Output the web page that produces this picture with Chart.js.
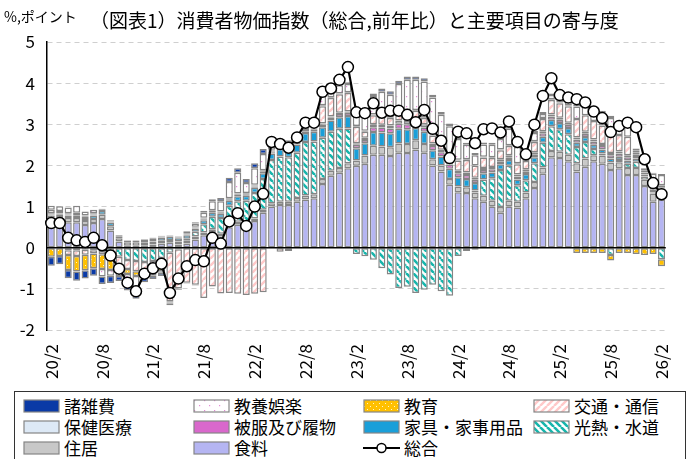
<!DOCTYPE html>
<html><head><meta charset="utf-8">
<script src="https://cdn.jsdelivr.net/npm/chart.js@4.4.1/dist/chart.umd.min.js"></script>
<style>
html,body{margin:0;padding:0;background:#fff;}
#wrap{position:relative;width:688px;height:459px;overflow:hidden;font-family:"Noto Sans CJK JP","Noto Sans",sans-serif;color:#000;}
#cv{position:absolute;left:0;top:0;}
#unit{position:absolute;left:4px;top:6px;font-size:14px;line-height:20px;white-space:nowrap;}
#title{position:absolute;left:90px;top:9px;font-size:19px;line-height:22px;white-space:nowrap;}
#legend{position:absolute;left:14px;top:391px;width:672px;height:72px;border:1.5px solid #333;box-sizing:border-box;}
.item{position:absolute;display:flex;align-items:center;font-size:17px;line-height:20px;white-space:nowrap;}
.item canvas{margin-right:4px;display:block;}
</style></head>
<body><div id="wrap">
<canvas id="cv" width="688" height="390"></canvas>
<div id="unit">%,ポイント</div>
<div id="title">（図表1）消費者物価指数（総合,前年比）と主要項目の寄与度</div>
<div id="legend"></div>
</div>
<script>
const categories = ['20/2','20/3','20/4','20/5','20/6','20/7','20/8','20/9','20/10','20/11','20/12',
'21/1','21/2','21/3','21/4','21/5','21/6','21/7','21/8','21/9','21/10','21/11','21/12',
'22/1','22/2','22/3','22/4','22/5','22/6','22/7','22/8','22/9','22/10','22/11','22/12',
'23/1','23/2','23/3','23/4','23/5','23/6','23/7','23/8','23/9','23/10','23/11','23/12',
'24/1','24/2','24/3','24/4','24/5','24/6','24/7','24/8','24/9','24/10','24/11','24/12',
'25/1','25/2','25/3','25/4','25/5','25/6','25/7','25/8','25/9','25/10','25/11','25/12',
'26/1','26/2'];
const tickLabels = ['20/2','20/8','21/2','21/8','22/2','22/8','23/2','23/8','24/2','24/8','25/2','25/8','26/2'];
const yTicks = [-2,-1,0,1,2,3,4,5];

const food = [0.60,0.60,0.62,0.62,0.55,0.60,0.70,0.42,0.15,0.05,0.05,
0.06,0.08,0.10,0.12,0.08,0.10,0.20,0.30,0.38,0.27,0.50,0.56,
0.53,0.65,0.85,1.00,1.04,1.04,1.12,1.17,1.20,1.55,1.75,1.82,1.93,
1.99,2.04,2.26,2.26,2.23,2.31,2.30,2.39,2.31,2.00,1.85,1.53,
1.35,1.33,1.20,1.12,1.00,0.85,1.00,0.98,1.20,1.45,1.80,2.20,
2.18,2.10,1.85,1.97,2.10,2.04,1.89,1.93,1.77,1.77,1.50,1.12,1.17];
const housing = [0.10,0.10,0.10,0.10,0.10,0.10,0.10,0.10,0.08,0.08,0.08,
0.07,0.07,0.07,0.07,0.07,0.07,0.07,0.07,0.07,0.07,0.07,0.07,
0.06,0.06,0.07,0.08,0.08,0.08,0.09,0.10,0.10,0.12,0.12,0.12,0.12,
0.13,0.20,0.22,0.20,0.21,0.22,0.22,0.22,0.21,0.15,0.15,0.14,
0.14,0.14,0.14,0.14,0.14,0.14,0.14,0.14,0.14,0.15,0.15,0.15,
0.15,0.16,0.20,0.20,0.15,0.20,0.18,0.15,0.17,0.17,0.15,0.20,0.18];
const energy = [0.03,0.02,-0.06,-0.06,-0.05,-0.06,-0.08,-0.12,-0.22,-0.30,-0.32,
-0.35,-0.32,-0.25,-0.12,-0.04,0.05,0.12,0.20,0.30,0.38,0.45,0.50,
0.55,0.62,0.75,1.05,1.10,1.08,1.10,1.30,1.28,1.00,0.95,0.95,0.85,
-0.15,-0.21,-0.29,-0.50,-0.65,-0.98,-0.95,-1.10,-1.02,-0.90,-1.06,-1.17,
-0.20,-0.08,0.05,0.40,0.55,0.90,0.85,0.40,0.30,0.45,0.60,0.60,
0.55,0.50,0.40,0.40,0.15,0.05,-0.18,0.05,0.10,0.15,0.08,0.02,-0.28];
const furniture = [0.05,0.05,0.06,0.07,0.07,0.08,0.09,0.09,0.05,0.04,0.04,
0.06,0.07,0.08,0.08,0.08,0.08,0.08,0.10,0.10,0.10,0.12,0.12,
0.12,0.13,0.14,0.16,0.18,0.18,0.20,0.22,0.24,0.26,0.27,0.28,0.30,
0.30,0.30,0.33,0.34,0.34,0.36,0.36,0.30,0.30,0.22,0.22,0.25,
0.22,0.20,0.18,0.15,0.14,0.14,0.14,0.14,0.15,0.15,0.15,0.16,
0.15,0.15,0.10,0.12,0.10,0.10,0.10,0.08,0.08,0.08,0.05,0.04,0.05];
const clothing = [0.03,0.03,0.03,0.03,0.03,0.03,0.03,0.03,0.02,0.01,0.01,
0.01,0.02,0.02,0.02,0.02,0.02,0.02,0.02,0.02,0.02,0.02,0.03,
0.03,0.03,0.03,0.03,0.03,0.04,0.04,0.04,0.05,0.06,0.07,0.08,0.08,
0.08,0.08,0.12,0.12,0.12,0.12,0.12,0.12,0.10,0.10,0.10,0.10,
0.10,0.10,0.08,0.08,0.08,0.07,0.07,0.07,0.07,0.07,0.08,0.08,
0.08,0.08,0.08,0.08,0.08,0.08,0.08,0.08,0.08,0.06,0.05,0.04,0.04];
const health = [0.03,0.03,0.03,0.03,0.03,0.03,0.03,0.03,0.01,0.01,0.01,
0.01,0.01,0.02,0.01,0.02,0.02,0.02,0.02,0.02,0.02,0.02,0.02,
0.02,0.02,0.02,0.02,0.02,0.02,0.02,0.03,0.03,0.03,0.03,0.03,0.03,
0.04,0.05,0.07,0.07,0.07,0.08,0.08,0.08,0.08,0.06,0.06,0.06,
0.06,0.06,0.05,0.05,0.05,0.05,0.05,0.05,0.05,0.05,0.05,0.05,
0.05,0.05,0.05,0.05,0.05,0.05,0.05,0.05,0.05,0.04,0.04,0.03,0.03];
const transport = [0.08,0.06,-0.12,-0.14,-0.12,-0.08,-0.08,-0.06,-0.20,-0.22,-0.25,
-0.20,-0.20,-0.20,-1.18,-0.95,-0.85,-0.90,-1.22,-0.94,-1.11,-1.10,-1.12,
-1.15,-1.12,-1.08,0.02,-0.10,-0.08,0.02,0.05,0.05,0.42,0.45,0.45,0.45,
0.40,0.15,0.22,0.20,0.18,0.22,0.25,0.22,0.15,0.20,0.15,0.15,
0.25,0.30,0.30,0.25,0.22,0.22,0.22,0.25,0.20,0.25,0.30,0.35,
0.35,0.40,0.45,0.40,0.45,0.45,0.50,0.40,0.45,0.05,0.00,0.05,0.05];
const education = [-0.22,-0.20,-0.36,-0.38,-0.38,-0.36,-0.36,-0.36,-0.12,-0.12,-0.12,
-0.12,-0.12,-0.12,-0.03,-0.02,-0.02,-0.02,0.02,0.02,0.02,0.02,0.02,
0.02,0.02,0.02,0.02,0.02,0.02,0.02,0.02,0.02,0.02,0.02,0.02,0.02,
0.02,0.02,0.02,0.02,0.02,0.02,0.02,0.02,0.02,0.02,0.02,0.02,
0.02,0.02,-0.05,0.02,0.02,0.02,0.02,0.02,0.02,0.02,0.02,0.02,
0.02,0.02,-0.13,-0.13,-0.13,-0.13,-0.13,-0.13,-0.13,-0.15,-0.18,-0.15,-0.17];
const recreation = [0.10,0.12,0.14,0.17,0.10,0.08,-0.18,-0.14,-0.15,-0.30,-0.35,
-0.05,-0.04,-0.04,-0.02,0.01,0.04,0.08,0.12,0.22,0.25,0.40,0.50,
0.24,0.40,0.40,0.10,0.08,0.08,0.06,0.08,0.07,0.30,0.20,0.20,0.20,
0.40,0.50,0.45,0.58,0.55,0.65,0.73,0.73,0.87,0.90,0.68,0.70,
0.50,0.35,0.25,0.30,0.30,0.25,0.40,0.40,0.15,0.20,0.10,0.10,
0.15,0.15,0.30,0.30,0.25,0.30,0.35,0.25,0.30,0.05,0.05,0.30,0.25];
const misc = [-0.22,-0.20,-0.20,-0.22,-0.20,-0.18,-0.18,-0.18,-0.12,-0.10,-0.20,
-0.12,-0.08,-0.08,-0.05,-0.02,0.02,0.03,0.05,0.05,0.08,0.10,0.11,
0.10,0.12,0.12,0.10,0.08,0.07,0.05,0.05,0.05,0.05,0.04,0.04,0.04,
0.05,0.05,0.06,0.08,0.08,0.08,0.08,0.08,0.08,0.07,0.07,0.07,
0.06,0.05,0.05,0.05,0.05,0.05,0.05,0.05,0.04,0.05,0.05,0.04,
0.05,0.05,0.05,0.08,0.08,0.06,0.06,0.05,0.05,0.04,0.02,0.02,0.02];
const total = [0.60,0.60,0.24,0.18,0.14,0.24,0.06,-0.19,-0.51,-0.85,-1.06,
-0.63,-0.50,-0.39,-1.10,-0.75,-0.45,-0.30,-0.33,0.24,0.10,0.64,0.84,
0.53,1.00,1.31,2.57,2.52,2.43,2.68,3.04,3.04,3.79,3.87,4.08,4.39,
3.29,3.27,3.51,3.28,3.33,3.33,3.23,3.05,3.35,2.89,2.60,2.18,
2.82,2.78,2.54,2.88,2.90,2.80,3.07,2.57,2.27,2.99,3.69,4.12,
3.71,3.65,3.61,3.53,3.31,3.15,2.81,2.96,3.04,2.93,2.15,1.57,1.30];

// ---- fills ----
function tile(size, draw){const c=document.createElement('canvas');c.width=c.height=size;const x=c.getContext('2d');draw(x,size);return c;}
function stripes(bg, fg, size, lw, back){
  return tile(size,(x,s)=>{x.fillStyle=bg;x.fillRect(0,0,s,s);x.strokeStyle=fg;x.lineWidth=lw;x.beginPath();
    for(let k=-1;k<=1;k++){ if(back){x.moveTo(k*s,0);x.lineTo(k*s+s,s);} else {x.moveTo(k*s,s);x.lineTo(k*s+s,0);} }
    x.stroke();});
}
function dots(bg, fg, size, r){
  return tile(size,(x,s)=>{x.fillStyle=bg;x.fillRect(0,0,s,s);x.fillStyle=fg;
    x.fillRect(1,1,r,r);x.fillRect(1+s/2,1+s/2,r,r);});
}
const pctx = document.createElement('canvas').getContext('2d');
const fills = {
  misc:'#0a3aa6',
  rec: pctx.createPattern(dots('#ffffff','#e58ad8',10,1.2),'repeat'),
  edu: pctx.createPattern(dots('#ffc000','#fff6cc',6,1),'repeat'),
  trans: pctx.createPattern(stripes('#ffffff','#ffc9c9',7,2.4,false),'repeat'),
  health:'#dde9f6',
  cloth:'#d968cc',
  furn:'#1a9fd9',
  energy: pctx.createPattern(stripes('#ffffff','#17b5ac',7,2.6,true),'repeat'),
  house:'#c8c8c8',
  food:'#b5b5f2'
};
const edge = '#858585';

const series = [
  {label:'食料', data:food, fill:fills.food},
  {label:'住居', data:housing, fill:fills.house},
  {label:'光熱・水道', data:energy, fill:fills.energy},
  {label:'家具・家事用品', data:furniture, fill:fills.furn},
  {label:'被服及び履物', data:clothing, fill:fills.cloth},
  {label:'保健医療', data:health, fill:fills.health},
  {label:'交通・通信', data:transport, fill:fills.trans},
  {label:'教育', data:education, fill:fills.edu},
  {label:'教養娯楽', data:recreation, fill:fills.rec},
  {label:'諸雑費', data:misc, fill:fills.misc}
];

const datasets = series.map(s=>({
  type:'bar', label:s.label, data:s.data, backgroundColor:s.fill, borderColor:edge, borderWidth:1.5,
  borderSkipped:false, stack:'cpi', order:1, barPercentage:0.84, categoryPercentage:1.0
}));
datasets.push({type:'line', label:'総合', data:total, stack:'total', order:0, borderColor:'#000', borderWidth:2.2,
  pointRadius:5.5, pointBackgroundColor:'#fff', pointBorderColor:'#000', pointBorderWidth:1.5, tension:0});

const zeroLine = {id:'zeroLine', beforeDatasetDraw(chart,args){
  if(args.meta.type!=='line') return;
  const {ctx, chartArea:{left,right}, scales:{y}} = chart; const py = y.getPixelForValue(0);
  ctx.save(); ctx.strokeStyle='#000'; ctx.lineWidth=1.6; ctx.beginPath(); ctx.moveTo(left,py); ctx.lineTo(right,py); ctx.stroke(); ctx.restore();
}};

Chart.defaults.font.family = "'Noto Sans CJK JP','Noto Sans',sans-serif";
Chart.defaults.color = '#000';
new Chart(document.getElementById('cv'), {
  data:{labels:categories, datasets},
  options:{
    responsive:false, animation:false,
    layout:{padding:{top:42,right:4,left:0,bottom:0}},
    plugins:{legend:{display:false}, tooltip:{enabled:false}},
    scales:{
      x:{stacked:true, grid:{display:false}, border:{display:false},
        ticks:{autoSkip:false, maxRotation:90, minRotation:90, padding:6, font:{size:17},
          callback:(v,i)=> tickLabels.includes(categories[i]) ? categories[i] : ''},
        afterFit:(s)=>{s.height=60;}},
      y:{stacked:true, min:-2, max:5, afterBuildTicks:(s)=>{s.ticks = yTicks.map(v=>({value:v}));},
        grid:{color:'#cfcfcf', lineWidth:1, drawTicks:false},
        border:{display:true, color:'#000', width:1.5, dash:[5,4]},
        ticks:{padding:12, font:{size:17}},
        afterFit:(s)=>{s.width=47;}}
    }
  },
  plugins:[zeroLine]
});

// ---- HTML legend ----
const legendOrder = [
  ['諸雑費',fills.misc],['教養娯楽',fills.rec],['教育',fills.edu],['交通・通信',fills.trans],
  ['保健医療',fills.health],['被服及び履物',fills.cloth],['家具・家事用品',fills.furn],['光熱・水道',fills.energy],
  ['住居',fills.house],['食料',fills.food],['総合',null]
];
const colX=[8,178,348,518], rowY=[4,25,46];
const lg=document.getElementById('legend');
legendOrder.forEach((it,i)=>{
  const d=document.createElement('div'); d.className='item';
  d.style.left=colX[i%4]+'px'; d.style.top=rowY[Math.floor(i/4)]+'px';
  const c=document.createElement('canvas'); c.width=37; c.height=14; const x=c.getContext('2d');
  if(it[1]){ x.fillStyle=it[1]; x.fillRect(1,1,35,12); x.strokeStyle=edge; x.lineWidth=1.2; x.strokeRect(1,1,35,12); }
  else { x.strokeStyle='#000'; x.lineWidth=2; x.beginPath(); x.moveTo(0,7); x.lineTo(37,7); x.stroke();
    x.fillStyle='#fff'; x.lineWidth=1.5; x.beginPath(); x.arc(18.5,7,4.5,0,Math.PI*2); x.fill(); x.stroke(); }
  d.appendChild(c); const t=document.createElement('span'); t.textContent=it[0]; d.appendChild(t); lg.appendChild(d);
});
</script>
</body></html>
